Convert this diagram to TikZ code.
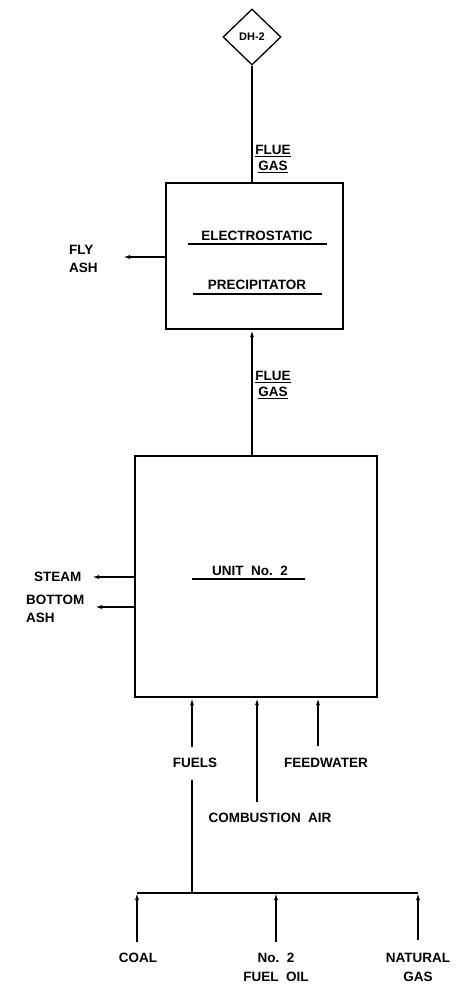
\documentclass[tikz,border=0pt]{standalone}
\usepackage{fontspec}
\setmainfont{Liberation Sans}
\usetikzlibrary{shapes.geometric,arrows.meta}
\begin{document}
\begin{tikzpicture}[x=1pt,y=-1pt,
  lbl/.style={font=\fontsize{13.5}{15}\selectfont\bfseries, inner sep=0pt, align=center},
  lbll/.style={font=\fontsize{13.5}{18}\selectfont\bfseries, inner sep=0pt, align=left},
  boxst/.style={draw, line width=2.2pt, inner sep=0pt},
  flow/.style={line width=1.7pt},
  arr/.style={line width=1.7pt, -{Latex[length=7pt,width=4pt]}},
  uline/.style={line width=1.4pt}]
\useasboundingbox (0,0) rectangle (465,990);
% nodes
\node[diamond, draw, line width=1.3pt, minimum width=58pt, minimum height=56pt, inner sep=0pt,
      font=\fontsize{11}{12}\selectfont\bfseries] (dh) at (252,37) {DH-2};
\node[boxst, minimum width=177pt, minimum height=146pt] (esp) at (254.5,256) {};
\node[boxst, minimum width=242pt, minimum height=241pt] (unit) at (256,576.5) {};
\node[lbl] (elec) at (257,236) {ELECTROSTATIC};
\node[lbl] (prec) at (257,285) {PRECIPITATOR};
\node[lbl] (unitlbl) at (250,571) {UNIT\ \ No.\ \ 2};
\draw[uline] (188,244) -- (327,244);
\draw[uline] (193,294) -- (322,294);
\draw[uline] (192,579) -- (305,579);
\node[lbl, font=\fontsize{13.5}{15.5}\selectfont\bfseries] (flue1) at (273,159) {\underline{FLUE}\\\underline{GAS}};
\node[lbl, font=\fontsize{13.5}{15.5}\selectfont\bfseries] (flue2) at (273,385) {\underline{FLUE}\\\underline{GAS}};
\node[lbll, anchor=west] (flyash) at (69,259) {FLY\\ASH};
\node[lbl, anchor=west] (steam) at (34,577) {STEAM};
\node[lbll, anchor=west] (bash) at (26,609) {BOTTOM\\ASH};
\node[lbl] (fuels) at (195,763) {FUELS};
\node[lbl] (feed) at (326,763) {FEEDWATER};
\node[lbl] (comb) at (270,818) {COMBUSTION\ \ AIR};
\node[lbl] (coal) at (138,958) {COAL};
\node[lbl, font=\fontsize{13.5}{19}\selectfont\bfseries] (oil) at (276,967) {No.\ \ 2\\FUEL\ \ OIL};
\node[lbl, font=\fontsize{13.5}{19}\selectfont\bfseries] (gas) at (418,967) {NATURAL\\GAS};
% coordinates for free ends
\coordinate (flyend) at (123,257);
\coordinate (steamend) at (92,577);
\coordinate (bashend) at (95,607);
\coordinate (fuelsin) at (192,747);
\coordinate (fuelstop) at (192,780);
\coordinate (hdr) at (192,893);
\coordinate (hdrL) at (137,893);
\coordinate (hdrR) at (418,893);
\coordinate (hdrM) at (276,893);
\coordinate (combin) at (257,802);
\coordinate (feedin) at (318,746);
\coordinate (coalin) at (137,942);
\coordinate (oilin) at (276,942);
\coordinate (gasin) at (418,940);
% connectors
\draw[flow] (dh.south) -- (dh.south |- esp.north);
\draw[arr] (esp.west |- flyend) -- (flyend);
\draw[arr] (unit.north -| dh.south) -- (esp.south -| dh.south);
\draw[arr] (unit.west |- steamend) -- (steamend);
\draw[arr] (unit.west |- bashend) -- (bashend);
\draw[arr] (fuelsin) -- (fuelsin |- unit.south);
\draw[arr] (combin) -- (combin |- unit.south);
\draw[arr] (feedin) -- (feedin |- unit.south);
\draw[flow] (fuelstop) -- (hdr);
\draw[flow] (hdrL) -- (hdrR);
\draw[arr] (coalin) -- (hdrL);
\draw[arr] (oilin) -- (hdrM);
\draw[arr] (gasin) -- (hdrR);
\end{tikzpicture}
\end{document}
